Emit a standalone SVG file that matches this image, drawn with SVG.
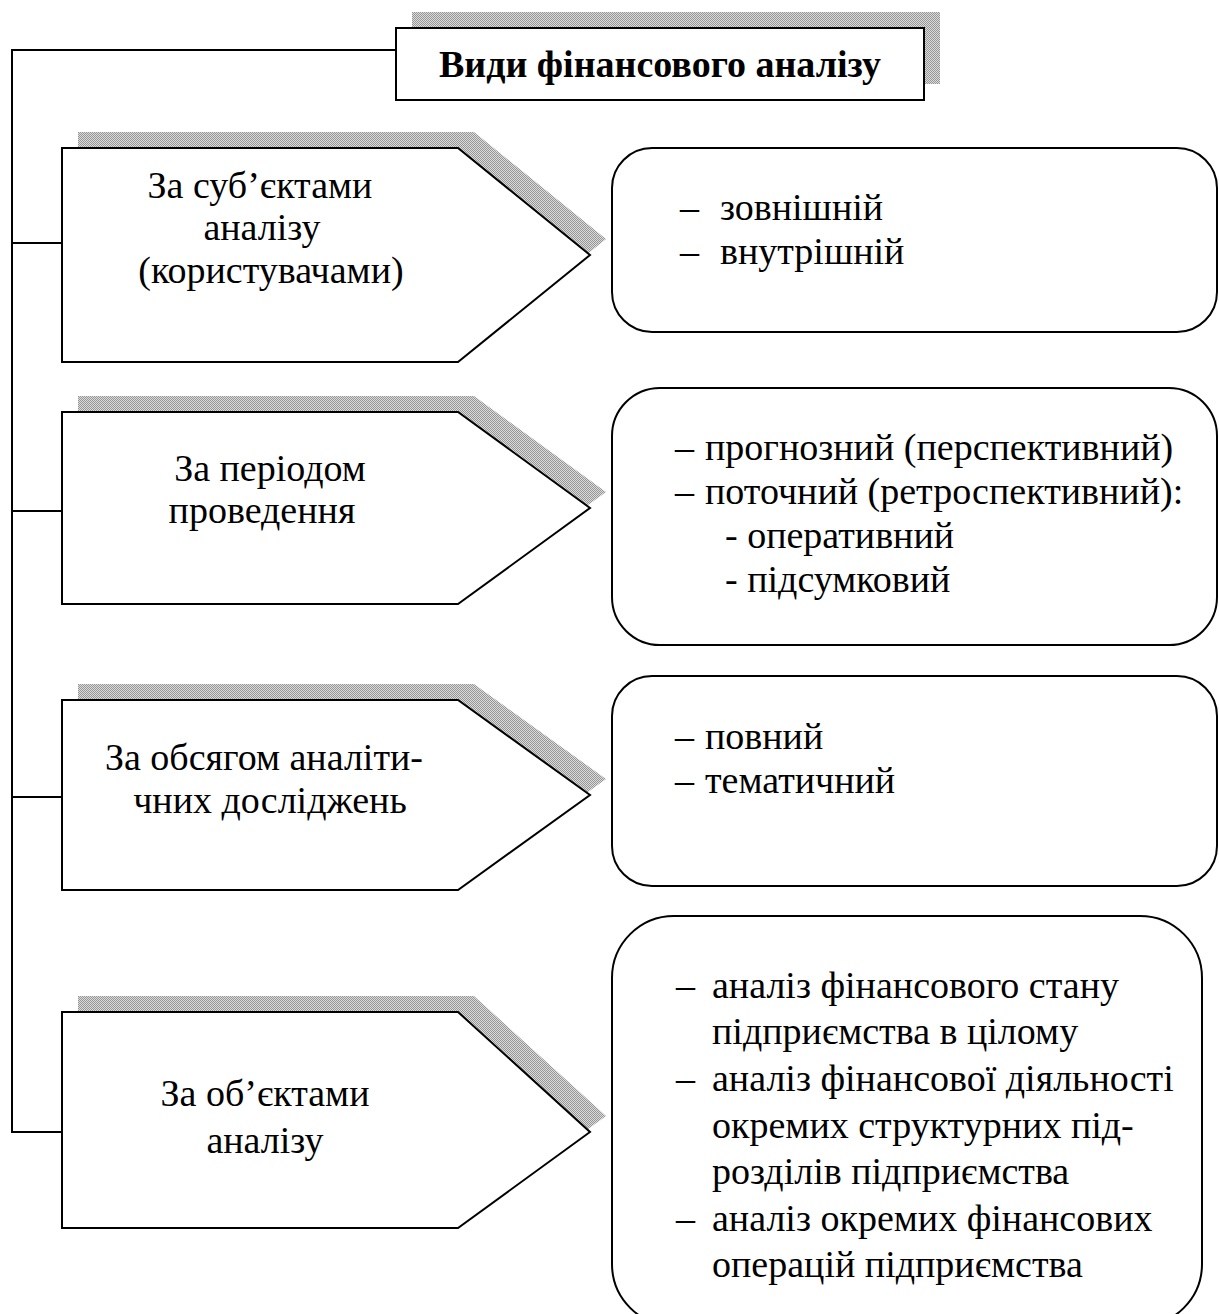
<svg xmlns="http://www.w3.org/2000/svg" width="1219" height="1314" viewBox="0 0 1219 1314">
<style>
.ln{fill:none;stroke:#000;stroke-width:2}
.nd{fill:#fff;stroke:#000;stroke-width:2}
.sh{fill:url(#dots);stroke:none}
.t{font-family:"Liberation Serif","Times New Roman",serif;font-size:38px;fill:#000}
.c{text-anchor:middle}
.b{font-weight:bold}
</style>
<defs>
<pattern id="dots" width="2" height="2" patternUnits="userSpaceOnUse">
<rect width="2" height="2" fill="#dcdcdc"/>
<rect width="1" height="1" fill="#959595"/>
<rect x="1" y="1" width="1" height="1" fill="#959595"/>
</pattern>
</defs>
<rect width="1219" height="1314" fill="#fff"/>
<g id="connectors">
<polyline class="ln" points="396,50 12,50 12,1132 62,1132"/>
<line class="ln" x1="12" y1="243" x2="62" y2="243"/>
<line class="ln" x1="12" y1="511" x2="62" y2="511"/>
<line class="ln" x1="12" y1="797" x2="62" y2="797"/>
</g>
<g id="title">
<rect class="sh" x="412" y="12" width="528" height="72"/>
<rect class="nd" x="396" y="28" width="528" height="72"/>
<text class="t c b" x="660" y="77">Види фінансового аналізу</text>
</g>
<g id="cat1">
<polygon class="sh" points="78,132 474,132 606,239 474,346 78,346"/>
<polygon class="nd" points="62,148 458,148 590,255 458,362 62,362"/>
<text class="t c" x="260" y="198">За суб’єктами</text>
<text class="t c" x="262" y="240">аналізу</text>
<text class="t c" x="271" y="283">(користувачами)</text>
</g>
<g id="cat2">
<polygon class="sh" points="78,396 474,396 606,492 474,588 78,588"/>
<polygon class="nd" points="62,412 458,412 590,508 458,604 62,604"/>
<text class="t c" x="270" y="481">За періодом</text>
<text class="t c" x="262" y="523">проведення</text>
</g>
<g id="cat3">
<polygon class="sh" points="78,684 474,684 606,779 474,874 78,874"/>
<polygon class="nd" points="62,700 458,700 590,795 458,890 62,890"/>
<text class="t c" x="264" y="770">За обсягом аналіти-</text>
<text class="t c" x="270" y="813">чних досліджень</text>
</g>
<g id="cat4">
<polygon class="sh" points="78,996 474,996 606,1116 474,1212 78,1212"/>
<polygon class="nd" points="62,1012 458,1012 590,1132 458,1228 62,1228"/>
<text class="t c" x="265" y="1106">За об’єктами</text>
<text class="t c" x="265" y="1153">аналізу</text>
</g>
<g id="list1">
<rect class="nd" x="612" y="148" width="605" height="184" rx="40"/>
<text class="t" x="680" y="220">–</text><text class="t" x="720" y="220">зовнішній</text>
<text class="t" x="680" y="264">–</text><text class="t" x="720" y="264">внутрішній</text>
</g>
<g id="list2">
<rect class="nd" x="612" y="388" width="605" height="257" rx="48"/>
<text class="t" x="675" y="460">–</text><text class="t" x="705" y="460">прогнозний (перспективний)</text>
<text class="t" x="675" y="504">–</text><text class="t" x="705" y="504">поточний (ретроспективний):</text>
<text class="t" x="725" y="548">- оперативний</text>
<text class="t" x="725" y="592">- підсумковий</text>
</g>
<g id="list3">
<rect class="nd" x="612" y="676" width="605" height="210" rx="40"/>
<text class="t" x="675" y="749">–</text><text class="t" x="705" y="749">повний</text>
<text class="t" x="675" y="793">–</text><text class="t" x="705" y="793">тематичний</text>
</g>
<g id="list4">
<rect class="nd" x="612" y="916" width="590" height="410" rx="62"/>
<text class="t" x="676" y="998">–</text><text class="t" x="712" y="998">аналіз фінансового стану</text>
<text class="t" x="712" y="1044">підприємства в цілому</text>
<text class="t" x="676" y="1091">–</text><text class="t" x="712" y="1091">аналіз фінансової діяльності</text>
<text class="t" x="712" y="1138">окремих структурних під-</text>
<text class="t" x="712" y="1184">розділів підприємства</text>
<text class="t" x="676" y="1231">–</text><text class="t" x="712" y="1231">аналіз окремих фінансових</text>
<text class="t" x="712" y="1277">операцій підприємства</text>
</g>
</svg>
